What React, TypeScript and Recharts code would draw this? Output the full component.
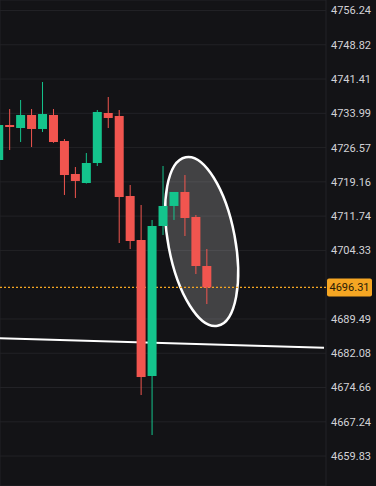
import React from 'react';
import { ComposedChart, Bar, XAxis, YAxis, CartesianGrid, ReferenceLine, ReferenceDot } from 'recharts';

// candle data (oldest first)
const candleIndex = [0, 1, 2, 3, 4, 5, 6, 7, 8, 9, 10, 11, 12, 13, 14, 15, 16, 17, 18, 19];
const opens = [4723.89, 4731.46, 4730.81, 4733.63, 4730.6, 4733.63, 4728.0, 4720.86, 4718.91, 4723.24, 4734.06, 4733.41, 4716.1, 4706.58, 4677.15, 4709.61, 4713.94, 4716.97, 4711.56, 4700.95];
const highs = [4732.98, 4734.92, 4736.87, 4734.92, 4740.77, 4734.92, 4728.43, 4722.37, 4725.4, 4734.71, 4737.52, 4734.71, 4718.48, 4714.15, 4710.91, 4722.59, 4716.97, 4720.64, 4711.99, 4704.63];
const lows = [4722.81, 4726.05, 4727.78, 4726.7, 4729.95, 4727.6, 4716.32, 4715.67, 4718.8, 4722.59, 4730.81, 4705.93, 4704.63, 4673.04, 4664.38, 4707.66, 4710.91, 4707.44, 4699.22, 4692.73];
const closes = [4731.46, 4731.03, 4733.63, 4730.6, 4733.84, 4727.78, 4720.64, 4719.35, 4723.24, 4734.28, 4732.98, 4715.88, 4706.36, 4676.93, 4709.61, 4713.94, 4716.97, 4711.34, 4700.95, 4696.31];

const priceTicks = [4756.24, 4748.82, 4741.41, 4733.99, 4726.57, 4719.16, 4711.74, 4704.33, 4689.49, 4682.08, 4674.66, 4667.24, 4659.83];
const timeGridTicks = [8.82, 18.89, 28.97];
const lastPrice = 4696.31;
const trendStart = { x: 0.12, y: 4685.31 };
const trendEnd = { x: 29.7, y: 4683.27 };
const highlightCenter = { x: 18.53, y: 4706.25 };

const GREEN = '#14c48c';
const RED = '#f1554f';
const ORANGE = '#f5a623';
const BG = '#131316';

const data = candleIndex.map((i, k) => ({
  i,
  open: opens[k],
  high: highs[k],
  low: lows[k],
  close: closes[k],
  range: [lows[k], highs[k]],
}));

const Candle = (props: any) => {
  const { x, y, width, height, payload } = props;
  const { open, close, high, low } = payload;
  const color = close >= open ? GREEN : RED;
  const ratio = height / (high - low);
  const bodyTop = y + (high - Math.max(open, close)) * ratio;
  const bodyH = Math.max(1.5, Math.abs(open - close) * ratio);
  const cx = x + width / 2;
  return (
    <g>
      <line x1={cx} x2={cx} y1={y} y2={y + height} stroke={color} strokeWidth={1} />
      <rect x={x} y={bodyTop} width={width} height={bodyH} fill={color} />
    </g>
  );
};

const PriceTag = (props: any) => {
  const vb = props.viewBox;
  const left = vb.x + vb.width + 1;
  return (
    <g>
      <rect x={left} y={vb.y - 9} width={45} height={18} rx={2} fill={ORANGE} />
      <text x={left + 22.5} y={vb.y + 4} textAnchor="middle" fontSize={11} fontFamily="Roboto" fill="#2a1c06">
        {lastPrice.toFixed(2)}
      </text>
    </g>
  );
};

const Highlight = (props: any) => (
  <ellipse
    cx={props.cx}
    cy={props.cy}
    rx={33.4}
    ry={85.8}
    transform={`rotate(-10.7 ${props.cx} ${props.cy})`}
    fill="rgba(255,255,255,0.2)"
    stroke="#ffffff"
    strokeWidth={2.5}
  />
);

export default function App() {
  return (
    <div style={{ position: 'absolute', left: 0, top: 0, width: 376, height: 486, background: BG }}>
      <ComposedChart width={376} height={486} data={data} margin={{ top: 0, right: 0, bottom: 0, left: 0 }}>
        <CartesianGrid stroke="#222226" />
        <XAxis
          type="number"
          dataKey="i"
          domain={[0.12, 29.88]}
          allowDataOverflow
          ticks={timeGridTicks}
          tick={false}
          axisLine={false}
          tickLine={false}
          height={0}
        />
        <YAxis
          orientation="right"
          domain={[4653.35, 4758.51]}
          allowDataOverflow
          ticks={priceTicks}
          interval={0}
          width={50}
          axisLine={false}
          tickLine={false}
          tickSize={3}
          tickMargin={2}
          tick={{ fill: '#d2d2d6', fontSize: 11, fontFamily: 'Roboto', textAnchor: 'start' }}
          tickFormatter={(v: number) => v.toFixed(2)}
        />
        <ReferenceDot
          x={highlightCenter.x}
          y={highlightCenter.y}
          shape={Highlight}
          ifOverflow="visible"
          zIndex={100}
        />
        <ReferenceLine
          segment={[trendStart, trendEnd]}
          stroke="#ffffff"
          strokeWidth={2}
          ifOverflow="visible"
          zIndex={110}
        />
        <ReferenceLine
          y={lastPrice}
          stroke={ORANGE}
          strokeWidth={1.2}
          strokeDasharray="2 2"
          label={PriceTag}
          zIndex={120}
        />
        <Bar dataKey="range" barSize={9} shape={Candle} isAnimationActive={false} zIndex={300} />
      </ComposedChart>
    </div>
  );
}
